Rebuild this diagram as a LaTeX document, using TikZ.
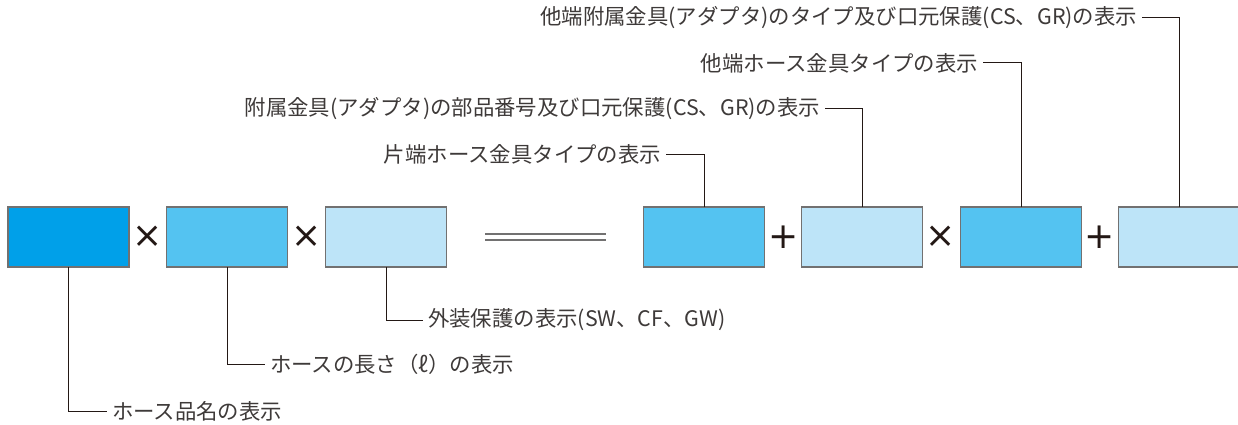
\documentclass[tikz,border=0pt]{standalone}
\usepackage{fontspec}
\setmainfont{Noto Sans CJK JP}
\newfontfamily\opfont{DejaVu Sans}
\usetikzlibrary{positioning}
\definecolor{cA}{RGB}{0,160,233}
\definecolor{cB}{RGB}{84,195,241}
\definecolor{cC}{RGB}{189,228,248}
\definecolor{ink}{RGB}{35,24,21}
\definecolor{bd}{RGB}{114,113,113}
\definecolor{tx}{RGB}{62,58,57}

\begin{document}
\begin{tikzpicture}[x=1pt,y=-1pt,
  box/.style={draw=bd,line width=1.2pt,minimum width=121pt,minimum height=60pt,inner sep=0,outer sep=0},
  op/.style={text=ink,font=\opfont\fontsize{36}{36}\selectfont,inner sep=0},
  lbl/.style={text=tx,font=\fontsize{21.4}{23}\selectfont,inner xsep=5pt,inner ysep=0,outer sep=0},
  wire/.style={ink,line width=1pt}]
  \useasboundingbox (0,0) rectangle (1238,425);

  % ---- boxes and operators ----
  \foreach \x/\c [count=\i] in {68.5/cA,227/cB,386/cC,704/cB,862/cC,1021/cB,1179/cC}
    \node[box,fill=\c] (b\i) at (\x,237) {};
  \foreach \x/\s [count=\i] in {148/×,307/×,784/+,941/×,1100/+}
    \node[op] (o\i) at (\x,237) {\s};
  \draw[bd,line width=1.2pt] (485,234)--(606,234) (485,240)--(606,240);

  % ---- labels below ----
  \node[lbl,anchor=west] (l1) at (107,411) {ホース品名の表示};
  \node[lbl,anchor=west] (l2) at (265,364) {ホースの長さ（ℓ）の表示};
  \node[lbl,anchor=west] (l3) at (423,320) {外装保護の表示(SW、CF、GW)};
  \foreach \i in {1,2,3}
    \draw[wire] (b\i.south) |- (l\i.west);

  % ---- labels above ----
  \node[lbl,anchor=east] (l4) at (666,154) {片端ホース金具タイプの表示};
  \node[lbl,anchor=east] (l5) at (825,109) {附属金具(アダプタ)の部品番号及び口元保護(CS、GR)の表示};
  \node[lbl,anchor=east] (l6) at (983,63) {他端ホース金具タイプの表示};
  \node[lbl,anchor=east] (l7) at (1142,18) {他端附属金具(アダプタ)のタイプ及び口元保護(CS、GR)の表示};
  \foreach \i in {4,...,7}
    \draw[wire] (b\i.north) |- (l\i.east);

\end{tikzpicture}
\end{document}
